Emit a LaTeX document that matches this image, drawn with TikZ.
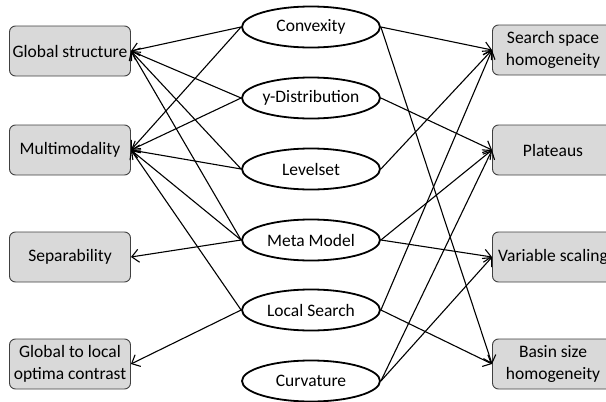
\documentclass[tikz,border=0pt]{standalone}
\usepackage{fontspec}
\setmainfont{Carlito}
\usetikzlibrary{arrows.meta,shapes.geometric}
\begin{document}
\begin{tikzpicture}[x=1pt,y=-1pt,
  txt/.style={font=\fontsize{17.5}{22}\selectfont},
  box/.style={txt, draw=black!75, fill=black!15, rounded corners=6pt,
    minimum width=121pt, minimum height=50pt, align=center, inner sep=1pt, line width=0.9pt},
  ell/.style={txt, ellipse, draw, line width=1.8pt, minimum width=138pt,
    minimum height=41pt, inner sep=0pt},
  conn/.style={line width=1.1pt, -{Straight Barb[length=7pt,width=13pt,line width=1.1pt]}}]
\useasboundingbox (0,0) rectangle (606,402);
\clip (0,0) rectangle (606,402);
% left boxes
\node[box] (gs) at (70,51) {Global structure};
\node[box] (mm) at (70,150) {Multimodality};
\node[box] (sep) at (70,257) {Separability};
\node[box] (gl) at (70,364) {Global to local\\optima contrast};
% right boxes
\node[box] (ss) at (553,50) {Search space\\homogeneity};
\node[box] (pl) at (553,150) {Plateaus};
\node[box] (vs) at (553,257) {Variable scaling};
\node[box] (bs) at (553,364) {Basin size\\homogeneity};
% ellipses
\node[ell] (cv) at (311,27) {Convexity};
\node[ell] (yd) at (311,98) {y-Distribution};
\node[ell] (ls) at (311,169) {Levelset};
\node[ell] (mo) at (311,240) {Meta Model};
\node[ell] (lo) at (311,310) {Local Search};
\node[ell] (cu) at (311,381) {Curvature};
% connectors
\draw[conn] (cv.west) -- (gs.east);
\draw[conn] (cv.west) -- (mm.east);
\draw[conn] (cv.east) -- (ss.west);
\draw[conn] (cv.east) -- (bs.west);
\draw[conn] (yd.west) -- (gs.east);
\draw[conn] (yd.west) -- (mm.east);
\draw[conn] (yd.east) -- (pl.west);
\draw[conn] (ls.west) -- (gs.east);
\draw[conn] (ls.west) -- (mm.east);
\draw[conn] (ls.east) -- (ss.west);
\draw[conn] (mo.west) -- (gs.east);
\draw[conn] (mo.west) -- (mm.east);
\draw[conn] (mo.west) -- (sep.east);
\draw[conn] (mo.east) -- (pl.west);
\draw[conn] (mo.east) -- (vs.west);
\draw[conn] (lo.west) -- (mm.east);
\draw[conn] (lo.west) -- (gl.east);
\draw[conn] (lo.east) -- (ss.west);
\draw[conn] (lo.east) -- (bs.west);
\draw[conn] (cu.east) -- (pl.west);
\draw[conn] (cu.east) -- (vs.west);
\end{tikzpicture}
\end{document}
